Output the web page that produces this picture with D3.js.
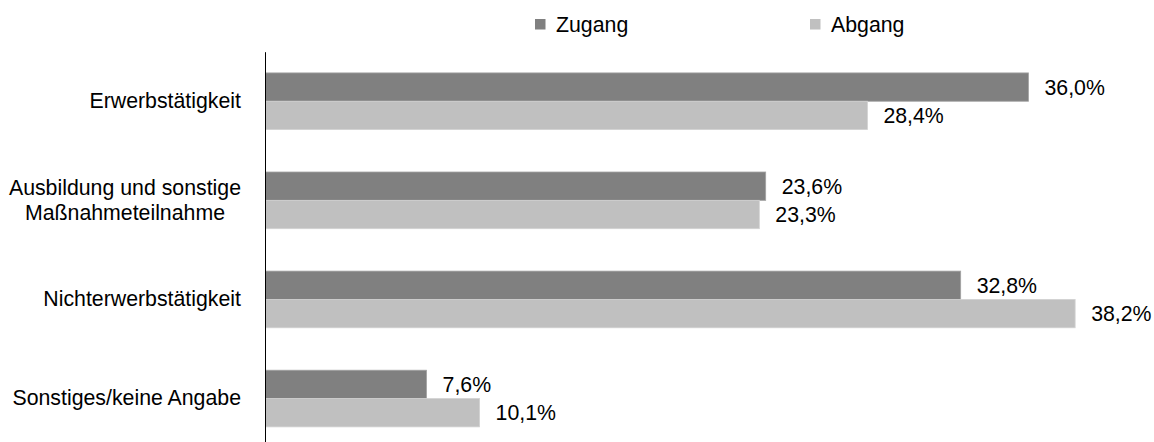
<!DOCTYPE html>
<html>
<head>
<meta charset="utf-8">
<script src="https://cdn.jsdelivr.net/npm/d3@7"></script>
<style>
  body { margin: 0; background: #fff; }
  text { font-family: "Liberation Sans", Arial, sans-serif; }
</style>
</head>
<body>
<svg id="chart"></svg>
<script>
const categories = [
  "Erwerbstätigkeit",
  "Ausbildung und sonstige\nMaßnahmeteilnahme",
  "Nichterwerbstätigkeit",
  "Sonstiges/keine Angabe"
];
const seriesNames = ["Zugang", "Abgang"];
const zugang = [36.0, 23.6, 32.8, 7.6];
const abgang = [28.4, 23.3, 38.2, 10.1];

const width = 1154;
const height = 442;
const fontSize = 21.3;
const colors = { Zugang: "#808080", Abgang: "#c0c0c0" };
const strokes = { Zugang: "#a3a3a3", Abgang: "#d2d2d2" };

const rows = categories.map((c, i) => ({ cat: c, Zugang: zugang[i], Abgang: abgang[i] }));

const svg = d3.select("#chart").attr("width", width).attr("height", height);

const x = d3.scaleLinear().domain([0, 36]).range([265.5, 1028.5]);

const y0 = d3.scaleBand()
  .domain(categories)
  .range([51.7, 448.1])
  .paddingInner(0.428)
  .paddingOuter(0.214);

const y1 = d3.scaleBand().domain(seriesNames).range([0, y0.bandwidth()]);

// bars
const groups = svg.append("g")
  .selectAll("g")
  .data(rows)
  .join("g")
  .attr("transform", d => `translate(0,${y0(d.cat)})`);

groups.selectAll("rect")
  .data(d => seriesNames.map(s => ({ key: s, value: d[s] })))
  .join("rect")
  .attr("x", x(0))
  .attr("y", d => y1(d.key))
  .attr("width", d => x(d.value) - x(0))
  .attr("height", y1.bandwidth())
  .attr("fill", d => colors[d.key])
  .attr("stroke", d => strokes[d.key])
  .attr("stroke-width", 0.8);

groups.selectAll("text.val")
  .data(d => seriesNames.map(s => ({ key: s, value: d[s] })))
  .join("text")
  .attr("class", "val")
  .attr("x", d => x(d.value) + 16)
  .attr("y", d => y1(d.key) + y1.bandwidth() / 2)
  .attr("dy", "0.35em")
  .attr("font-size", fontSize)
  .attr("fill", "#000")
  .text(d => d3.format(".1f")(d.value).replace(".", ",") + "%");

// axis
const yAxis = svg.append("g")
  .attr("transform", `translate(${x(0) - 0.5},0)`)
  .call(d3.axisLeft(y0).tickSize(0).tickPadding(24));

yAxis.select(".domain").attr("stroke", "#000").attr("stroke-width", 1);
yAxis.selectAll(".tick text")
  .attr("font-size", fontSize)
  .attr("font-family", "Liberation Sans, Arial, sans-serif")
  .attr("fill", "#000")
  .each(function (d) {
    const lines = d.split("\n");
    if (lines.length < 2) return;
    const t = d3.select(this).text(null).attr("text-anchor", "middle");
    const spans = lines.map((l, i) =>
      t.append("tspan").text(l)
    );
    const w = d3.max(spans, s => s.node().getComputedTextLength());
    const lh = 25;
    spans.forEach((s, i) => {
      s.attr("x", -24 - w / 2)
        .attr("y", 0)
        .attr("dy", (i - (lines.length - 1) / 2) * lh + 7.5);
    });
    t.attr("dy", null);
  });

// legend
const legend = svg.append("g")
  .selectAll("g")
  .data(seriesNames)
  .join("g")
  .attr("transform", (d, i) => `translate(${[535, 810][i]},19)`);

legend.append("rect")
  .attr("width", 10.5)
  .attr("height", 10.5)
  .attr("fill", d => colors[d]);

legend.append("text")
  .attr("x", 21)
  .attr("y", 13.3)
  .attr("font-size", fontSize)
  .attr("fill", "#000")
  .text(d => d);
</script>
</body>
</html>
